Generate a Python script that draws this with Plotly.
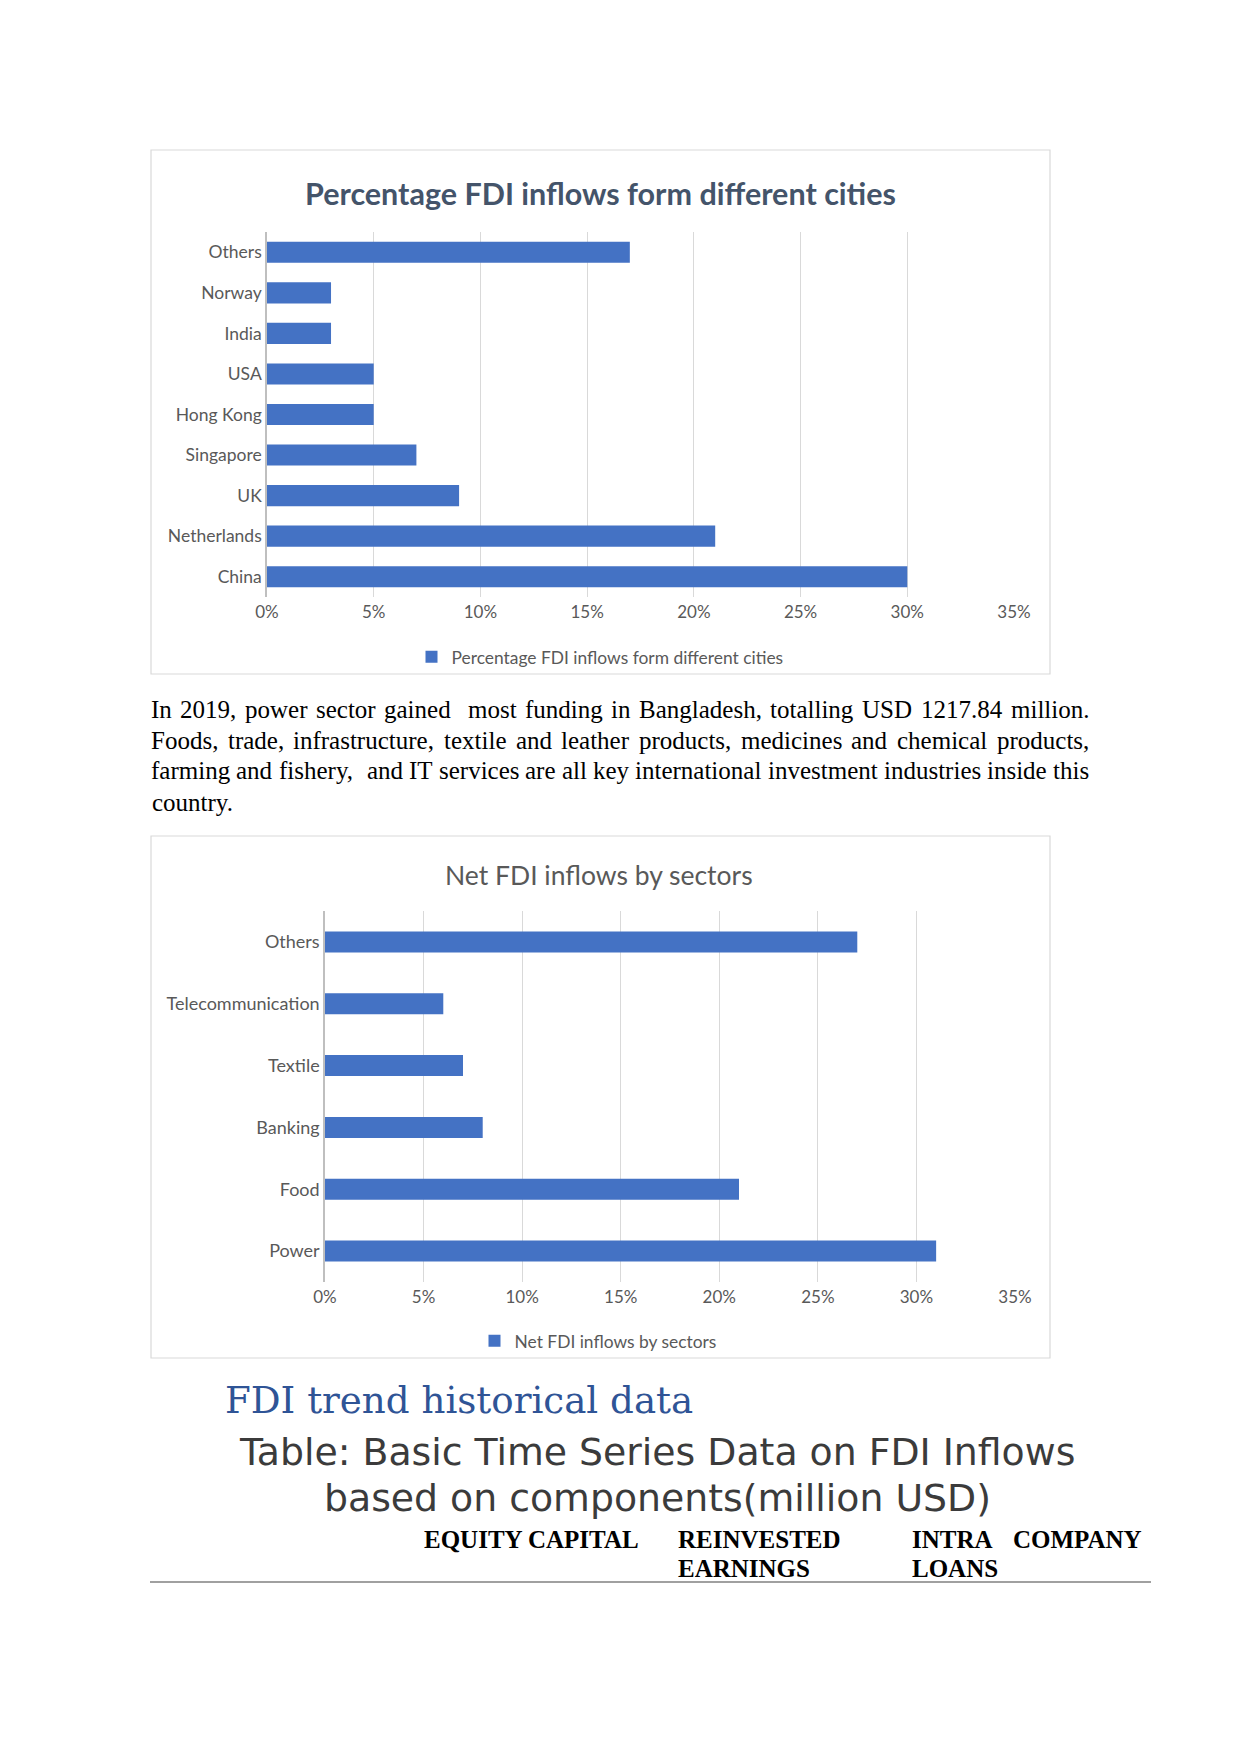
import plotly.graph_objects as go

W, H = 1241, 1754

# ---------------- data ----------------
cities = ["China", "Netherlands", "UK", "Singapore", "Hong Kong", "USA", "India", "Norway", "Others"]
city_pct = [30, 21, 9, 7, 5, 5, 3, 3, 17]

sectors = ["Power", "Food", "Banking", "Textile", "Telecommunication", "Others"]
sector_pct = [31, 21, 8, 7, 6, 27]

x_ticks = [0, 5, 10, 15, 20, 25, 30, 35]
x_tick_labels = ["0%", "5%", "10%", "15%", "20%", "25%", "30%", "35%"]

chart1_title = "Percentage FDI inflows form different cities"
chart2_title = "Net FDI inflows by sectors"

paragraph_lines = [
    "In 2019, power sector gained  most funding in Bangladesh, totalling USD 1217.84 million.",
    "Foods, trade, infrastructure, textile and leather products, medicines and chemical products,",
    "farming and fishery,  and IT services are all key international investment industries inside this",
    "country.",
]
heading = "FDI trend historical data"
table_title_lines = ["Table: Basic Time Series Data on FDI Inflows", "based on components(million USD)"]
header_row1 = ["EQUITY CAPITAL", "REINVESTED", "INTRA", "COMPANY"]
header_row2 = ["", "EARNINGS", "LOANS", ""]

# ---------------- helpers ----------------
def px(x):
    return x / W

def py(y):
    return 1 - y / H

BAR = "#4472C4"
GRID = "#D9D9D9"
TXT = "#595959"

fig = go.Figure()

fig.add_trace(go.Bar(
    y=cities, x=city_pct, orientation="h", width=0.52,
    marker=dict(color=BAR, line=dict(width=0)),
    name=chart1_title, xaxis="x", yaxis="y", legend="legend",
))
fig.add_trace(go.Bar(
    y=sectors, x=sector_pct, orientation="h", width=0.34,
    marker=dict(color=BAR, line=dict(width=0)),
    name=chart2_title, xaxis="x2", yaxis="y2", legend="legend2",
))

axis_font = dict(family="Lato", size=17, color=TXT)
xcommon = dict(range=[0, 35], tickvals=x_ticks, ticktext=x_tick_labels,
               showgrid=True, gridcolor=GRID, gridwidth=1, zeroline=False,
               showline=False, ticks="", tickfont=axis_font, fixedrange=True,
               ticklabelstandoff=3, automargin=False)
ycommon = dict(type="category", showgrid=False, zeroline=False, showline=True,
               linecolor="#BFBFBF", linewidth=1.5, ticks="", fixedrange=True,
               automargin=False)

fig.update_layout(
    width=W, height=H,
    margin=dict(l=0, r=0, t=0, b=0, autoexpand=False),
    paper_bgcolor="white", plot_bgcolor="white",
    xaxis=dict(domain=[px(267), px(1014)], anchor="y", **xcommon),
    yaxis=dict(domain=[py(597), py(232)], anchor="x", range=[-0.5, len(cities) - 0.5],
               tickfont=dict(family="Lato", size=17.5, color=TXT), **ycommon),
    xaxis2=dict(domain=[px(325), px(1015)], anchor="y2", **xcommon),
    yaxis2=dict(domain=[py(1282), py(911)], anchor="x2", range=[-0.5, len(sectors) - 0.5],
                tickfont=dict(family="Lato", size=18, color=TXT), **ycommon),
    legend=dict(x=px(600), y=py(657), xanchor="center", yanchor="middle",
                orientation="h", font=dict(family="Lato", size=17.4, color=TXT),
                bgcolor="rgba(0,0,0,0)"),
    legend2=dict(x=px(598), y=py(1341), xanchor="center", yanchor="middle",
                 orientation="h", font=dict(family="Lato", size=17.4, color=TXT),
                 bgcolor="rgba(0,0,0,0)"),
    showlegend=True,
)

shapes = []
for (x0, y0, x1, y1) in [(151, 150, 1050, 674), (151, 836, 1050, 1358)]:
    shapes.append(dict(type="rect", xref="paper", yref="paper",
                       x0=px(x0), x1=px(x1), y0=py(y1), y1=py(y0),
                       line=dict(color="#D9D9D9", width=1.2), fillcolor="rgba(0,0,0,0)",
                       layer="below"))
shapes.append(dict(type="line", xref="paper", yref="paper",
                   x0=px(150), x1=px(1151), y0=py(1582), y1=py(1582),
                   line=dict(color="#808080", width=1.5)))
fig.update_layout(shapes=shapes)

ann = []

def text(x, y, s, family, size, color, xanchor="left", bold=False):
    if bold:
        s = "<b>" + s + "</b>"
    ann.append(dict(x=px(x), y=py(y), xref="paper", yref="paper", text=s,
                    showarrow=False, xanchor=xanchor, yanchor="middle",
                    font=dict(family=family, size=size, color=color)))

text(600, 193, chart1_title, "Lato", 30.5, "#44546A", xanchor="center", bold=True)
text(599, 875, chart2_title, "Lato", 26.5, TXT, xanchor="center")

TIMES = {
    " ": 250, ",": 250, ".": 250,
    "0": 500, "1": 500, "2": 500, "3": 500, "4": 500, "5": 500, "6": 500, "7": 500, "8": 500, "9": 500,
    "A": 722, "B": 667, "C": 667, "D": 722, "E": 611, "F": 556, "G": 722, "H": 722, "I": 333,
    "J": 389, "K": 722, "L": 611, "M": 889, "N": 722, "O": 722, "P": 556, "Q": 722, "R": 667,
    "S": 556, "T": 611, "U": 722, "V": 722, "W": 944, "X": 722, "Y": 722, "Z": 611,
    "a": 444, "b": 500, "c": 444, "d": 500, "e": 444, "f": 333, "g": 500, "h": 500, "i": 278,
    "j": 278, "k": 500, "l": 278, "m": 778, "n": 500, "o": 500, "p": 500, "q": 500, "r": 333,
    "s": 389, "t": 278, "u": 500, "v": 500, "w": 722, "x": 500, "y": 500, "z": 444,
}
P_SIZE = 25
P_LEFT, P_RIGHT = 150, 1088
line_y = [709, 740, 771, 802]

def wlen(w):
    return sum(TIMES.get(c, 500) for c in w) * P_SIZE / 1000.0

for i, line in enumerate(paragraph_lines):
    words = line.split(" ")
    if i == len(paragraph_lines) - 1:
        text(P_LEFT, line_y[i], line, "Liberation Serif", P_SIZE, "black")
        continue
    total = sum(wlen(w) for w in words)
    gap = (P_RIGHT - P_LEFT - total) / (len(words) - 1)
    x = P_LEFT
    for w in words:
        if w:
            text(x - 1, line_y[i], w, "Liberation Serif", P_SIZE, "black")
        x += wlen(w) + gap

text(223, 1400, heading, "DejaVu Serif", 37.2, "#2F5496")
text(657, 1452, table_title_lines[0], "DejaVu Sans", 37.8, "#3B3B3B", xanchor="center")
text(657, 1498, table_title_lines[1], "DejaVu Sans", 37.8, "#3B3B3B", xanchor="center")

col_x = [423, 677, 911, 1012]
for cx, s in zip(col_x, header_row1):
    if s:
        text(cx - 1, 1539, s, "Liberation Serif", 25, "black", bold=True)
for cx, s in zip(col_x, header_row2):
    if s:
        text(cx - 1, 1568, s, "Liberation Serif", 25, "black", bold=True)

fig.update_layout(annotations=ann)

fig.write_html("out.html", config={"displayModeBar": False},
               post_script="document.body.style.margin='0';")
